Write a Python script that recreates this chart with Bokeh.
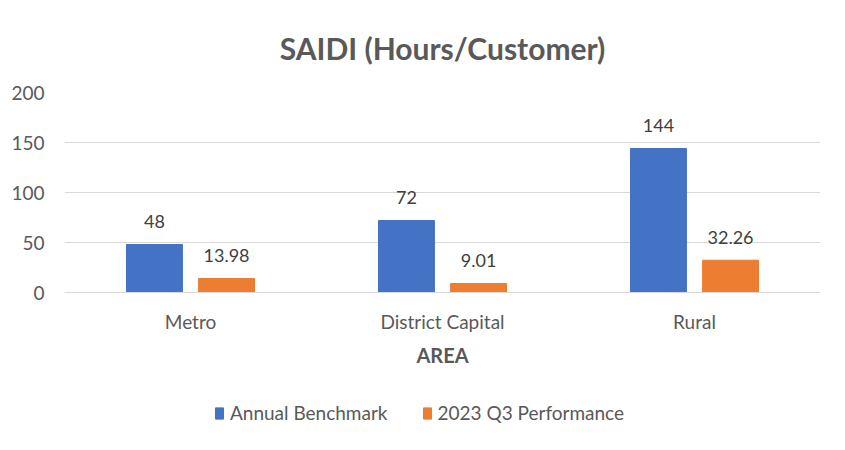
from bokeh.plotting import figure
from bokeh.layouts import column
from bokeh.models import ColumnDataSource, FactorRange, Range1d, Legend, LegendItem
from bokeh.transform import dodge
from bokeh.core.properties import value
from bokeh.embed import file_html
from bokeh.resources import INLINE

areas = ["Metro", "District Capital", "Rural"]
benchmark = [48, 72, 144]
q3_perf = [13.98, 9.01, 32.26]
bench_labels = ["48", "72", "144"]
perf_labels = ["13.98", "9.01", "32.26"]
y_ticks = [0, 50, 100, 150, 200]
series_names = ["Annual Benchmark", "2023 Q3 Performance"]
series_colors = ["#4472C4", "#ED7D31"]

FONT = "Lato"
GRAY = "#595959"

src = ColumnDataSource(dict(area=areas, bench=benchmark, perf=q3_perf,
                            bl=bench_labels, pl=perf_labels))

p = figure(width=845, height=385, output_backend="svg", toolbar_location=None,
           x_range=FactorRange(*areas, range_padding=0), y_range=Range1d(0, 200),
           min_border_left=64, min_border_right=25, min_border_top=91, min_border_bottom=93)

p.title.text = "SAIDI (Hours/Customer)"
p.title.align = "center"
p.title.text_font = FONT
p.title.text_font_size = "30px"
p.title.text_font_style = "bold"
p.title.text_color = GRAY
p.title.standoff = 54

p.vbar(x=dodge("area", -0.143, range=p.x_range), top="bench", width=0.222,
       source=src, fill_color=series_colors[0], line_color=series_colors[0])
p.vbar(x=dodge("area", 0.143, range=p.x_range), top="perf", width=0.222,
       source=src, fill_color=series_colors[1], line_color=series_colors[1])

for col, lab, off in (("bench", "bl", -0.143), ("perf", "pl", 0.143)):
    p.text(x=dodge("area", off, range=p.x_range), y=col, text=lab, source=src,
           text_align="center", text_baseline="middle", y_offset=-23,
           text_font=value(FONT), text_font_size="18px", text_color="#404040")

p.outline_line_color = None
p.xgrid.grid_line_color = None
p.ygrid.grid_line_color = "#D9D9D9"
p.ygrid.grid_line_width = 1
p.yaxis.ticker = y_ticks
p.yaxis.axis_line_color = None
p.yaxis.major_tick_line_color = None
p.yaxis.minor_tick_line_color = None
p.yaxis.major_label_text_font = FONT
p.yaxis.major_label_text_font_size = "19px"
p.yaxis.major_label_text_color = GRAY
p.yaxis.major_label_standoff = 14

p.xaxis.axis_line_color = "#D9D9D9"
p.xaxis.major_tick_line_color = None
p.xaxis.minor_tick_line_color = None
p.xaxis.major_label_text_font = FONT
p.xaxis.major_label_text_font_size = "19px"
p.xaxis.major_label_text_color = GRAY
p.xaxis.major_label_standoff = 11
p.xaxis.axis_label = "AREA"
p.xaxis.axis_label_text_font = FONT
p.xaxis.axis_label_text_font_size = "20px"
p.xaxis.axis_label_text_font_style = "bold"
p.xaxis.axis_label_text_color = GRAY
p.xaxis.axis_label_standoff = 7

# legend strip below the chart
lf = figure(width=845, height=65, output_backend="svg", toolbar_location=None,
            x_range=Range1d(0, 1), y_range=Range1d(0, 1),
            min_border_left=0, min_border_right=0, min_border_top=0, min_border_bottom=0)
lf.axis.visible = False
lf.grid.visible = False
lf.outline_line_color = None
items = []
for name, colr in zip(series_names, series_colors):
    # off-screen swatch renderers, used only for the legend glyphs
    r = lf.vbar(x=[-5], top=[-4], bottom=[-5], width=0.1, fill_color=colr, line_color=colr)
    items.append(LegendItem(label=name, renderers=[r]))
legend = Legend(items=items, orientation="horizontal", location=(150, 26),
                label_text_font=FONT, label_text_font_size="19px", label_text_color=GRAY,
                glyph_width=10, glyph_height=14, spacing=34, label_standoff=6,
                border_line_color=None, background_fill_alpha=0, margin=0, padding=0)
lf.add_layout(legend, "center")

open("out.html", "w").write(file_html(column(p, lf, spacing=0), INLINE))
